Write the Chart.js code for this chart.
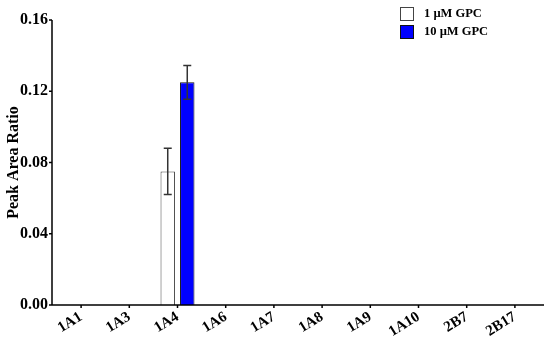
<!DOCTYPE html>
<html>
<head>
<meta charset="utf-8">
<script src="https://cdn.jsdelivr.net/npm/chart.js@4.4.0/dist/chart.umd.min.js"></script>
<style>
    html, body { margin: 0; padding: 0; background: #fff; }
    #wrap { position: relative; width: 550px; height: 343px; }
    .leyenda { position: absolute; left: 400px; font: bold 12.5px 'Liberation Serif', 'Times New Roman', serif; color: #000; }
    .leyenda span.caja { position: absolute; left: 0; top: 0; width: 14px; height: 14px; box-sizing: border-box; border: 1px solid #444; }
    .leyenda span.txt { position: absolute; left: 24px; top: -1px; white-space: nowrap; }
</style>
</head>
<body>
<div id="wrap">
    <canvas id="grafico" width="550" height="343"></canvas>
    <div class="leyenda" style="top: 7px;"><span class="caja" style="background:#fff;"></span><span class="txt">1 µM GPC</span></div>
    <div class="leyenda" style="top: 25px;"><span class="caja" style="background:#0000ff; border-color:#111;"></span><span class="txt">10 µM GPC</span></div>
</div>
<script>
// Datos
const categorias = ['1A1', '1A3', '1A4', '1A6', '1A7', '1A8', '1A9', '1A10', '2B7', '2B17'];
const gpc1 = [0, 0, 0.075, 0, 0, 0, 0, 0, 0, 0];
const gpc1Err = [0, 0, 0.013, 0, 0, 0, 0, 0, 0, 0];
const gpc10 = [0, 0, 0.125, 0, 0, 0, 0, 0, 0, 0];
const gpc10Err = [0, 0, 0.0095, 0, 0, 0, 0, 0, 0, 0];
const yTicks = [0, 0.04, 0.08, 0.12, 0.16];

const fuente = "'Liberation Serif', 'Times New Roman', serif";

// Barras de error
const errorBars = {
    id: 'errorBars',
    afterDatasetsDraw(chart) {
        const ctx = chart.ctx;
        const y = chart.scales.y;
        ctx.save();
        ctx.strokeStyle = '#333';
        ctx.lineWidth = 1.5;
        chart.data.datasets.forEach((ds, i) => {
            const meta = chart.getDatasetMeta(i);
            meta.data.forEach((bar, j) => {
                const e = ds.errores[j];
                if (!e) return;
                const v = ds.data[j];
                const top = y.getPixelForValue(v + e);
                const bot = y.getPixelForValue(v - e);
                ctx.beginPath();
                ctx.moveTo(bar.x, top); ctx.lineTo(bar.x, bot);
                ctx.moveTo(bar.x - 4, top); ctx.lineTo(bar.x + 4, top);
                ctx.moveTo(bar.x - 4, bot); ctx.lineTo(bar.x + 4, bot);
                ctx.stroke();
            });
        });
        ctx.restore();
    }
};

// Ejes dibujados a mano (se extienden un poco fuera del area)
const ejes = {
    id: 'ejes',
    afterDraw(chart) {
        const ctx = chart.ctx;
        const a = chart.chartArea;
        const x0 = a.left - 5;
        ctx.save();
        ctx.strokeStyle = '#000';
        ctx.lineWidth = 1.5;
        ctx.beginPath();
        ctx.moveTo(x0, a.top);
        ctx.lineTo(x0, a.bottom);
        ctx.lineTo(a.right + 5, a.bottom);
        chart.scales.y.ticks.forEach(t => {
            const py = chart.scales.y.getPixelForValue(t.value);
            ctx.moveTo(x0 - 3, py); ctx.lineTo(x0, py);
        });
        chart.scales.x.ticks.forEach((t, i) => {
            const px = chart.scales.x.getPixelForTick(i);
            ctx.moveTo(px, a.bottom); ctx.lineTo(px, a.bottom + 3);
        });
        ctx.stroke();
        ctx.restore();
    }
};

new Chart(document.getElementById('grafico'), {
    type: 'bar',
    data: {
        labels: categorias,
        datasets: [{
            label: '1 µM GPC',
            data: gpc1,
            errores: gpc1Err,
            backgroundColor: '#ffffff',
            borderColor: '#444',
            borderWidth: 1,
            borderSkipped: 'start'
        }, {
            label: '10 µM GPC',
            data: gpc10,
            errores: gpc10Err,
            backgroundColor: '#0000ff',
            borderColor: '#111',
            borderWidth: 1,
            borderSkipped: 'start'
        }]
    },
    options: {
        responsive: false,
        animation: false,
        devicePixelRatio: 1,
        layout: { padding: { top: 20, right: 11, left: 0, bottom: 0 } },
        datasets: { bar: { categoryPercentage: 0.81, barPercentage: 0.74 } },
        plugins: {
            legend: { display: false },
            tooltip: { enabled: false }
        },
        scales: {
            x: {
                grid: { display: false, drawTicks: false },
                border: { display: false },
                ticks: {
                    color: '#000',
                    font: { family: fuente, size: 15, weight: 'bold' },
                    minRotation: 32,
                    maxRotation: 32,
                    padding: 3,
                    autoSkip: false
                },
                afterFit: s => { s.height = 38; }
            },
            y: {
                min: 0,
                max: 0.16,
                afterBuildTicks: s => { s.ticks = yTicks.map(v => ({ value: v })); },
                grid: { display: false, drawTicks: false },
                border: { display: false },
                ticks: {
                    color: '#000',
                    padding: 9,
                    font: { family: fuente, size: 16, weight: 'bold' },
                    callback: v => v.toFixed(2)
                },
                title: {
                    display: true,
                    text: 'Peak Area Ratio',
                    color: '#000',
                    font: { family: fuente, size: 16, weight: 'bold' },
                    padding: { top: 4, bottom: 0 }
                },
                afterFit: s => { s.width = 57; }
            }
        }
    },
    plugins: [errorBars, ejes]
});
</script>
</body>
</html>
